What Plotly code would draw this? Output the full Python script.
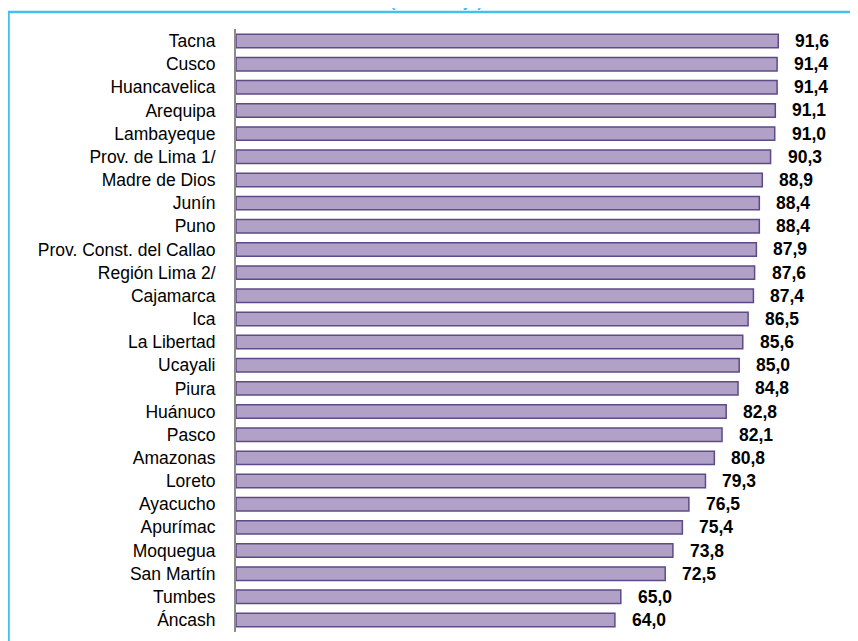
import plotly.graph_objects as go

# Chart data
REGIONS = ["Tacna", "Cusco", "Huancavelica", "Arequipa", "Lambayeque", "Prov. de Lima 1/",
           "Madre de Dios", "Junín", "Puno", "Prov. Const. del Callao", "Región Lima 2/",
           "Cajamarca", "Ica", "La Libertad", "Ucayali", "Piura", "Huánuco", "Pasco",
           "Amazonas", "Loreto", "Ayacucho", "Apurímac", "Moquegua", "San Martín",
           "Tumbes", "Áncash"]
VALUES = [91.6, 91.4, 91.4, 91.1, 91.0, 90.3, 88.9, 88.4, 88.4, 87.9, 87.6, 87.4, 86.5,
          85.6, 85.0, 84.8, 82.8, 82.1, 80.8, 79.3, 76.5, 75.4, 73.8, 72.5, 65.0, 64.0]
SUBTITLE = "(Porcentaje)"

# Layout parameters (page body adds an 8px offset)
W, H = 858, 641
M_L, M_R, M_T, M_B = 228, 38, 21, 17
FONT = "Liberation Sans, Arial, sans-serif"
CYAN = "#45C0EE"

labels = [f"{v:.1f}".replace(".", ",") for v in VALUES]

fig = go.Figure()
fig.add_trace(go.Bar(
    x=VALUES, y=REGIONS, orientation="h",
    marker=dict(color="#B2A1C7", line=dict(color="#5E4A86", width=1.5)),
    hoverinfo="skip",
))

for r, v, t in zip(REGIONS, VALUES, labels):
    fig.add_annotation(x=v, y=r, text=f"<b>{t}</b>", showarrow=False,
                       xanchor="left", xshift=15,
                       font=dict(family=FONT, size=17.5, color="#000000"))

pw = W - M_L - M_R
ph = H - M_T - M_B

# subtitle cut by the top of the picture
fig.add_annotation(xref="paper", yref="paper", x=(428 - M_L) / pw, y=1,
                   xanchor="center", yanchor="bottom", yshift=17,
                   text=f"<b>{SUBTITLE}</b>", showarrow=False,
                   font=dict(family=FONT, size=16, color=CYAN))

fig.add_shape(type="rect", xref="paper", yref="paper",
              x0=(0.5 - M_L) / pw, x1=(W + 20 - M_L) / pw,
              y0=-(M_B + 20) / ph, y1=(H - M_B - 4) / ph,
              line=dict(color=CYAN, width=2.5), fillcolor="rgba(0,0,0,0)", layer="below")

fig.update_xaxes(range=[0, 100], showticklabels=False, showgrid=False, zeroline=False,
                 showline=False)
fig.update_yaxes(autorange="reversed", showgrid=False, zeroline=False,
                 showline=True, linecolor="#8C8C8C", linewidth=2,
                 ticks="", ticklabelstandoff=15,
                 tickfont=dict(family=FONT, size=17.5, color="#000000"))
fig.update_layout(width=W, height=H, margin=dict(l=M_L, r=M_R, t=M_T, b=M_B),
                  bargap=0.42, showlegend=False,
                  plot_bgcolor="white", paper_bgcolor="white",
                  font=dict(family=FONT))

fig.write_html("out.html")
